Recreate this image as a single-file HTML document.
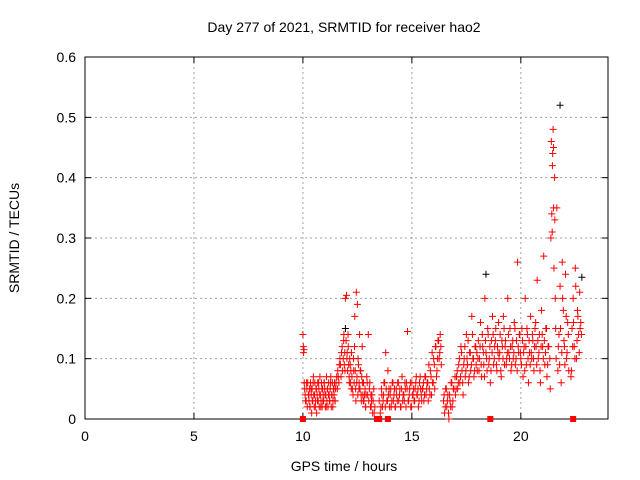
<!DOCTYPE html>
<html><head><meta charset="utf-8"><style>
body{margin:0;background:#fff}
svg{display:block;font-family:"Liberation Sans",sans-serif}
</style></head><body>
<svg id="chart" width="640" height="480" xmlns="http://www.w3.org/2000/svg"></svg>
<script>
const xTicks=[0,5,10,15,20];
const yTicks=[0,0.1,0.2,0.3,0.4,0.5,0.6];
const yTickLabels=["0","0.1","0.2","0.3","0.4","0.5","0.6"];
const redT=[10.0,10.02,10.05,10.03,10.06,10.08,10.1,
10.15,10.18,10.2,10.22,10.25,10.28,10.3,10.33,10.35,10.38,10.4,10.42,10.45,10.48,10.5,10.52,10.55,10.58,10.6,10.63,10.65,10.68,10.7,10.73,10.75,10.78,10.8,10.83,10.85,10.88,10.9,10.93,10.95,10.98,11.0,11.03,11.05,11.08,11.1,11.13,11.15,11.18,11.2,11.23,11.25,11.28,11.3,11.33,11.35,11.38,11.4,11.43,11.45,11.48,11.5,11.55,
11.6,11.65,11.7,11.72,11.75,11.8,11.82,11.85,11.88,11.9,11.92,11.95,11.98,12.0,12.02,12.05,12.08,12.1,12.12,12.15,12.18,12.2,12.22,12.25,
12.3,12.32,12.35,12.38,12.4,12.42,12.45,12.48,12.5,12.52,12.55,12.58,12.6,12.62,12.65,12.68,12.7,12.72,12.75,12.78,
12.8,12.85,12.88,12.9,12.95,13.0,13.02,13.05,13.1,13.12,13.15,13.2,13.25,13.3,
13.5,13.55,13.6,13.65,13.7,13.75,13.8,13.85,13.9,13.95,
14.0,14.05,14.1,14.15,14.2,14.25,14.3,14.35,14.4,14.45,14.5,14.55,14.6,14.65,14.7,14.75,14.8,14.85,14.9,14.95,15.0,15.05,15.1,15.15,15.2,15.25,15.3,15.35,15.4,15.45,
15.5,15.55,15.6,15.65,15.7,15.75,15.8,15.85,15.9,15.95,16.0,16.05,16.1,16.15,16.2,16.25,16.3,16.35,
16.45,16.5,16.55,16.6,16.65,16.7,16.75,16.8,16.85,16.9,
17.0,17.05,17.1,17.15,17.2,17.25,17.3,17.35,17.4,17.45,17.5,17.55,17.6,17.65,17.7,17.75,17.8,17.85,17.9,17.95,
18.0,18.05,18.1,18.15,18.2,18.25,18.3,18.35,18.4,18.45,18.5,18.55,18.6,18.65,18.7,18.75,18.8,18.85,18.9,18.95,
19.0,19.05,19.1,19.15,19.2,19.25,19.3,19.35,19.4,19.45,19.5,19.55,19.6,19.65,19.7,19.75,19.8,19.85,19.9,19.95,
20.0,20.05,20.1,20.15,20.2,20.25,20.3,20.35,20.4,20.45,20.5,20.55,20.6,20.65,20.7,20.75,20.8,20.85,20.9,20.95,21.0,21.05,21.1,21.15,21.2,21.25,
21.35,21.38,21.4,21.42,21.45,21.48,21.5,21.52,21.55,21.58,21.6,21.62,21.65,
21.7,21.75,21.8,21.85,21.9,21.95,22.0,22.05,22.1,22.15,22.2,
22.3,22.35,22.4,22.45,22.5,22.55,22.6,22.65,22.7,22.75];
const redV=[0.14,0.12,0.115,0.11,0.06,0.05,0.04,
0.03,0.05,0.02,0.06,0.04,0.03,0.05,0.02,0.06,0.04,0.01,0.05,0.03,0.07,0.04,0.02,0.06,0.03,0.05,0.01,0.04,0.06,0.03,0.05,0.02,0.07,0.04,0.03,0.06,0.02,0.05,0.04,0.03,0.06,0.05,0.02,0.04,0.07,0.03,0.05,0.02,0.06,0.04,0.03,0.05,0.07,0.02,0.04,0.06,0.03,0.05,0.04,0.06,0.03,0.05,0.07,
0.08,0.06,0.1,0.09,0.07,0.12,0.08,0.1,0.14,0.09,0.11,0.2,0.13,0.205,0.1,0.08,0.12,0.09,0.07,0.1,0.06,0.08,0.05,0.07,
0.04,0.1,0.06,0.17,0.08,0.05,0.21,0.07,0.19,0.04,0.09,0.06,0.14,0.05,0.08,0.03,0.07,0.12,0.04,0.06,
0.03,0.05,0.02,0.04,0.06,0.14,0.03,0.05,0.02,0.04,0.03,0.01,0.05,0.02,
0.03,0.01,0.05,0.02,0.04,0.06,0.11,0.03,0.08,0.05,
0.04,0.02,0.06,0.03,0.05,0.02,0.04,0.06,0.03,0.05,0.02,0.07,0.04,0.03,0.05,0.06,0.145,0.03,0.05,0.02,0.06,0.04,0.03,0.05,0.07,0.04,0.02,0.06,0.05,0.03,
0.05,0.03,0.07,0.04,0.06,0.03,0.05,0.08,0.04,0.06,0.1,0.05,0.12,0.08,0.13,0.1,0.14,0.09,
0.03,0.01,0.05,0.02,0.04,0.0,0.03,0.06,0.02,0.05,
0.04,0.07,0.05,0.09,0.06,0.12,0.08,0.04,0.1,0.07,0.14,0.09,0.06,0.11,0.08,0.17,0.1,0.07,0.12,0.09,
0.08,0.13,0.1,0.16,0.07,0.12,0.09,0.2,0.11,0.08,0.14,0.1,0.06,0.13,0.17,0.09,0.12,0.15,0.08,0.11,
0.1,0.14,0.07,0.12,0.17,0.09,0.13,0.1,0.2,0.11,0.15,0.08,0.12,0.1,0.16,0.09,0.13,0.26,0.11,0.14,
0.1,0.15,0.07,0.12,0.2,0.09,0.14,0.06,0.11,0.17,0.1,0.13,0.08,0.15,0.12,0.23,0.1,0.14,0.06,0.18,0.12,0.27,0.09,0.15,0.07,0.12,
0.05,0.3,0.46,0.34,0.42,0.48,0.35,0.25,0.4,0.2,0.15,0.1,0.35,
0.08,0.14,0.22,0.06,0.26,0.18,0.12,0.24,0.1,0.16,0.08,
0.07,0.15,0.2,0.12,0.25,0.1,0.18,0.14,0.21,0.16];
const redT2=[10.12,10.17,10.27,10.32,10.37,10.43,10.47,10.53,10.57,10.62,10.67,10.72,10.77,10.82,10.87,10.92,10.97,11.02,11.07,11.12,11.17,11.22,11.27,11.32,11.37,11.42,11.47,11.52,11.58,11.62,11.67,11.77,11.87,11.93,12.03,12.07,12.13,12.17,12.23,12.27,12.33,12.37,12.43,12.47,12.53,12.57,12.63,12.67,12.73,12.77,12.83,12.87,12.93,12.97,13.07,13.13,13.17,13.22,13.27,
13.58,13.62,13.68,13.72,13.78,13.82,13.88,13.92,13.98,14.03,14.08,14.13,14.18,14.23,14.28,14.33,14.38,14.43,14.48,14.53,14.58,14.63,14.68,14.73,14.78,14.83,14.88,14.93,14.98,15.03,15.08,15.13,15.18,15.23,15.28,15.33,15.38,15.43,15.48,15.53,15.58,15.63,15.68,15.73,15.78,15.83,15.88,15.93,15.98,16.03,16.08,16.13,16.18,16.23,16.28,16.33,
16.48,16.53,16.58,16.63,16.68,16.73,16.78,16.83,16.88,16.93,16.98,17.03,17.08,17.13,17.18,17.23,17.28,17.33,17.38,17.43,17.48,17.53,17.58,17.63,17.68,17.73,17.78,17.83,17.88,17.93,17.98,
18.03,18.08,18.13,18.18,18.23,18.28,18.33,18.38,18.43,18.48,18.53,18.58,18.63,18.68,18.73,18.78,18.83,18.88,18.93,18.98,19.03,19.08,19.13,19.18,19.23,19.28,19.33,19.38,19.43,19.48,19.53,19.58,19.63,19.68,19.73,19.78,19.83,19.88,19.93,19.98,
20.03,20.08,20.13,20.18,20.23,20.28,20.33,20.38,20.43,20.48,20.53,20.58,20.63,20.68,20.73,20.78,20.83,20.88,20.93,20.98,21.03,21.08,21.13,21.18,21.23,21.28,21.33,
21.44,21.46,21.5,21.56,21.72,21.78,21.82,21.88,21.92,21.98,22.02,22.08,22.12,22.18,22.32,22.38,22.42,22.48,22.52,22.58,22.62,22.68,22.72,22.78];
const redV2=[0.03,0.06,0.04,0.02,0.05,0.03,0.06,0.04,0.02,0.05,0.03,0.06,0.04,0.02,0.05,0.03,0.06,0.04,0.02,0.05,0.04,0.03,0.06,0.04,0.02,0.05,0.03,0.06,0.05,0.07,0.09,0.11,0.13,0.08,0.11,0.14,0.06,0.09,0.11,0.05,0.08,0.12,0.03,0.06,0.1,0.05,0.08,0.04,0.06,0.03,0.04,0.02,0.07,0.04,0.06,0.02,0.04,0.03,0.01,
0.02,0.04,0.03,0.06,0.02,0.05,0.03,0.04,0.02,0.05,0.03,0.06,0.04,0.02,0.05,0.03,0.06,0.04,0.02,0.05,0.03,0.04,0.06,0.02,0.05,0.03,0.04,0.06,0.02,0.04,0.05,0.03,0.06,0.04,0.05,0.03,0.07,0.04,0.05,0.06,0.04,0.07,0.05,0.06,0.09,0.04,0.07,0.11,0.06,0.09,0.12,0.07,0.1,0.13,0.11,0.12,
0.04,0.02,0.05,0.03,0.01,0.04,0.02,0.06,0.03,0.05,0.07,0.05,0.08,0.06,0.1,0.07,0.11,0.06,0.09,0.12,0.08,0.1,0.13,0.07,0.11,0.09,0.14,0.1,0.08,0.12,0.11,
0.1,0.08,0.12,0.09,0.14,0.11,0.07,0.13,0.1,0.15,0.09,0.12,0.08,0.11,0.14,0.1,0.13,0.09,0.12,0.16,0.11,0.08,0.13,0.1,0.15,0.12,0.09,0.11,0.14,0.1,0.12,0.09,0.13,0.11,0.15,0.1,0.08,0.12,0.14,0.11,
0.09,0.13,0.11,0.08,0.12,0.15,0.1,0.13,0.09,0.11,0.14,0.1,0.12,0.16,0.09,0.13,0.11,0.08,0.12,0.14,0.1,0.13,0.11,0.15,0.09,0.12,0.1,
0.31,0.44,0.45,0.33,0.12,0.09,0.15,0.11,0.2,0.13,0.09,0.17,0.11,0.14,0.08,0.12,0.16,0.1,0.22,0.13,0.17,0.11,0.15,0.14];
const blackT=[11.95,18.4,21.8,22.8];
const blackV=[0.15,0.24,0.52,0.235];
const zeroT=[10.0,13.4,13.5,13.9,18.6,22.4];

const NS="http://www.w3.org/2000/svg";
const svg=document.getElementById('chart');
const L=85,R=608,T=57,B=419;
const xs=t=>L+t/24*(R-L);
const ys=v=>B-v/0.6*(B-T);
function el(tag,a,parent){const e=document.createElementNS(NS,tag);for(const k in a)e.setAttribute(k,a[k]);(parent||svg).appendChild(e);return e;}

const grid=el('g',{});


xTicks.forEach((t,i)=>{
  if(i>0){el('line',{x1:xs(t),x2:xs(t),y1:T,y2:B,stroke:'#a0a0a0','stroke-dasharray':'2,3'},grid);}
  el('line',{x1:xs(t),x2:xs(t),y1:B,y2:B-6,stroke:'#000'});
  el('line',{x1:xs(t),x2:xs(t),y1:T,y2:T+6,stroke:'#000'});
  const tx=el('text',{x:xs(t),y:B+22,'text-anchor':'middle','font-size':'14',fill:'#000'});
  tx.textContent=t;
  
  
});
yTicks.forEach((v,i)=>{
  if(i>0&&i<yTicks.length-1)el('line',{x1:L,x2:R,y1:ys(v),y2:ys(v),stroke:'#a0a0a0','stroke-dasharray':'2,3'},grid);
  el('line',{x1:L,x2:L+6,y1:ys(v),y2:ys(v),stroke:'#000'});
  el('line',{x1:R,x2:R-6,y1:ys(v),y2:ys(v),stroke:'#000'});
  const tx=el('text',{x:L-9,y:ys(v)+5,'text-anchor':'end','font-size':'14',fill:'#000'});
  tx.textContent=yTickLabels[i];
  
  
});
const box=el('rect',{x:L,y:T,width:R-L,height:B-T,fill:'none',stroke:'#000'});



function plus(t,v,c,g){const x=xs(t),y=ys(v);el('path',{d:`M${x-3.5} ${y}H${x+3.5}M${x} ${y-3.5}V${y+3.5}`,stroke:c,'stroke-width':1,fill:'none'},g);}
const bg=el('g',{});


blackT.forEach((t,i)=>plus(t,blackV[i],'#000',bg));
const rg=el('g',{});


redT.forEach((t,i)=>plus(t,redV[i],'#ff0000',rg));
redT2.forEach((t,i)=>plus(t,redV2[i],'#ff0000',rg));
zeroT.forEach(t=>{el('rect',{x:xs(t)-3,y:B-3,width:6,height:6,fill:'#ff0000'},rg);});

const title=el('text',{x:344,y:32,'text-anchor':'middle','font-size':'14',fill:'#000'});
title.textContent='Day 277 of 2021, SRMTID for receiver hao2';


const xt=el('text',{x:344,y:471,'text-anchor':'middle','font-size':'14',fill:'#000'});
xt.textContent='GPS time / hours';


const yt=el('text',{x:19,y:238,'text-anchor':'middle','font-size':'14',fill:'#000',transform:'rotate(-90 19 238)'});
yt.textContent='SRMTID / TECUs';


</script>
</body></html>
